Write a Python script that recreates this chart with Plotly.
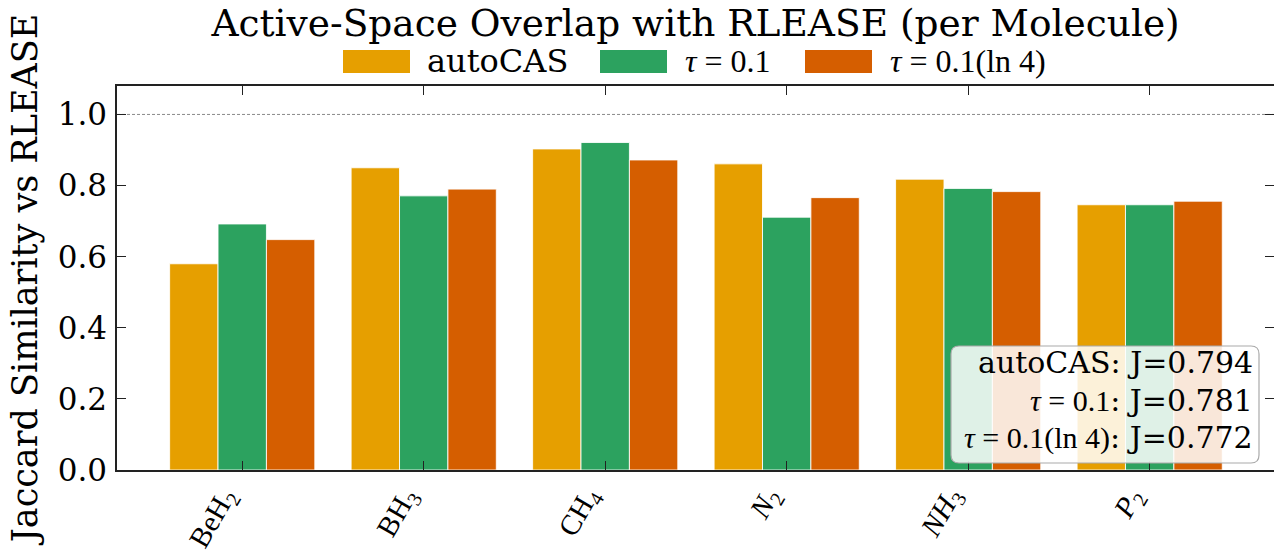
import plotly.graph_objects as go

# ---- data ----
molecules = ["BeH<sub>2</sub>", "BH<sub>3</sub>", "CH<sub>4</sub>",
             "<i>N</i><sub>2</sub>", "<i>NH</i><sub>3</sub>", "<i>P</i><sub>2</sub>"]
MATH = "<span style='font-family:Liberation Serif'>{}</span>"
series_names = ["autoCAS",
                MATH.format("<i>τ</i> = 0.1"),
                MATH.format("<i>τ</i> = 0.1(ln 4)")]
autocas = [0.580, 0.850, 0.903, 0.861, 0.818, 0.746]
tau01 = [0.692, 0.771, 0.921, 0.711, 0.792, 0.746]
tau01_ln4 = [0.648, 0.790, 0.872, 0.766, 0.783, 0.756]
overall_j = [0.794, 0.781, 0.772]
colors = ["#E69F00", "#2CA25F", "#D55E00"]

W, H = 1274, 556
ML, MR, MT, MB = 117, 0, 86, 86
FONT = "DejaVu Serif"
AX = "#222222"

def px(xp):
    return (xp - ML) / (W - ML - MR)

def py(yp):
    return (H - MB - yp) / (H - MT - MB)

fig = go.Figure()
x_idx = list(range(len(molecules)))
for name, vals, col in zip(series_names, [autocas, tau01, tau01_ln4], colors):
    fig.add_trace(go.Bar(x=x_idx, y=vals, name=name, marker_color=col,
                         marker_line_color="rgba(255,255,255,0.85)",
                         marker_line_width=1, showlegend=False))

fig.update_layout(
    width=W, height=H,
    margin=dict(l=ML, r=MR, t=MT, b=MB, autoexpand=False),
    paper_bgcolor="white", plot_bgcolor="white",
    barmode="group", bargap=0.2, bargroupgap=0,
    font=dict(family=FONT, color="black"),
    title=dict(text="Active-Space Overlap with RLEASE (per Molecule)",
               font=dict(size=37.5, family=FONT), x=0.546, xanchor="center",
               xref="container", y=1 - 23 / H, yanchor="middle", yref="container"),
)

fig.update_xaxes(
    range=[-0.69, 5.685], tickmode="array", tickvals=x_idx, ticktext=molecules,
    showticklabels=False, automargin=False,
    ticks="inside", ticklen=9, tickwidth=1.3, tickcolor=AX,
    showline=True, linecolor=AX, linewidth=1.5, mirror="ticks",
    showgrid=False, zeroline=False,
)
fig.update_yaxes(
    range=[0, 1.08], tickmode="array", tickvals=[0, 0.2, 0.4, 0.6, 0.8, 1.0],
    tickformat=".1f", tickfont=dict(size=31, family=FONT), automargin=False,
    ticks="inside", ticklen=9, tickwidth=1.3, tickcolor=AX,
    ticklabelstandoff=2,
    showline=True, linecolor=AX, linewidth=1.5, mirror="ticks",
    showgrid=False, zeroline=False,
    title=dict(text="Jaccard Similarity vs RLEASE", font=dict(size=35, family=FONT),
               standoff=9),
)

# rotated category labels, right-aligned to the tick like the reference
for i, lab in enumerate(molecules):
    fig.add_annotation(x=i, xref="x", y=0, yref="paper", text=lab, showarrow=False,
                       textangle=-60, xanchor="right", yanchor="top",
                       xshift=4, yshift=-11, borderpad=0,
                       font=dict(size=29, family="Liberation Serif"))

# dashed reference at 1.0
fig.add_shape(type="line", xref="paper", yref="y", x0=0, x1=1, y0=1.0, y1=1.0,
              line=dict(color="#8a8a8a", width=1, dash="3px,2px"), layer="below")

# manual legend (wide swatches like the reference)
sw_x = [343, 600, 805]
tx_x = [425, 683, 888]
for i in range(3):
    fig.add_shape(type="rect", xref="paper", yref="paper",
                  x0=px(sw_x[i]), x1=px(sw_x[i] + 67), y0=py(73), y1=py(50),
                  fillcolor=colors[i], line=dict(color=colors[i], width=0))
    fig.add_annotation(xref="paper", yref="paper", x=px(tx_x[i]), y=py(61),
                       text=series_names[i], showarrow=False, xanchor="left",
                       yanchor="middle", font=dict(size=32, family=FONT))

# stats box (rounded)
bx0, bx1, by0, by1, r = 951, 1259, 346, 463, 8
X0, X1 = px(bx0), px(bx1)
Y0, Y1 = py(by1), py(by0)
rx = r / (W - ML - MR)
ry = r / (H - MT - MB)
path = (f"M {X0+rx},{Y0} L {X1-rx},{Y0} Q {X1},{Y0} {X1},{Y0+ry} "
        f"L {X1},{Y1-ry} Q {X1},{Y1} {X1-rx},{Y1} L {X0+rx},{Y1} "
        f"Q {X0},{Y1} {X0},{Y1-ry} L {X0},{Y0+ry} Q {X0},{Y0} {X0+rx},{Y0} Z")
fig.add_shape(type="path", xref="paper", yref="paper", path=path,
              fillcolor="rgba(255,255,255,0.85)", line=dict(color="#aaaaaa", width=1.2),
              layer="above")
line_y = [362, 400, 437]
for i in range(3):
    fig.add_annotation(xref="paper", yref="paper", x=px(1255), y=py(line_y[i]),
                       text=f"{series_names[i]}: J={overall_j[i]:.3f}", showarrow=False,
                       xanchor="right", yanchor="middle", align="right",
                       font=dict(size=30, family=FONT))

fig.write_html("out.html", config={"displayModeBar": False},
               post_script="document.body.style.margin='0';")
